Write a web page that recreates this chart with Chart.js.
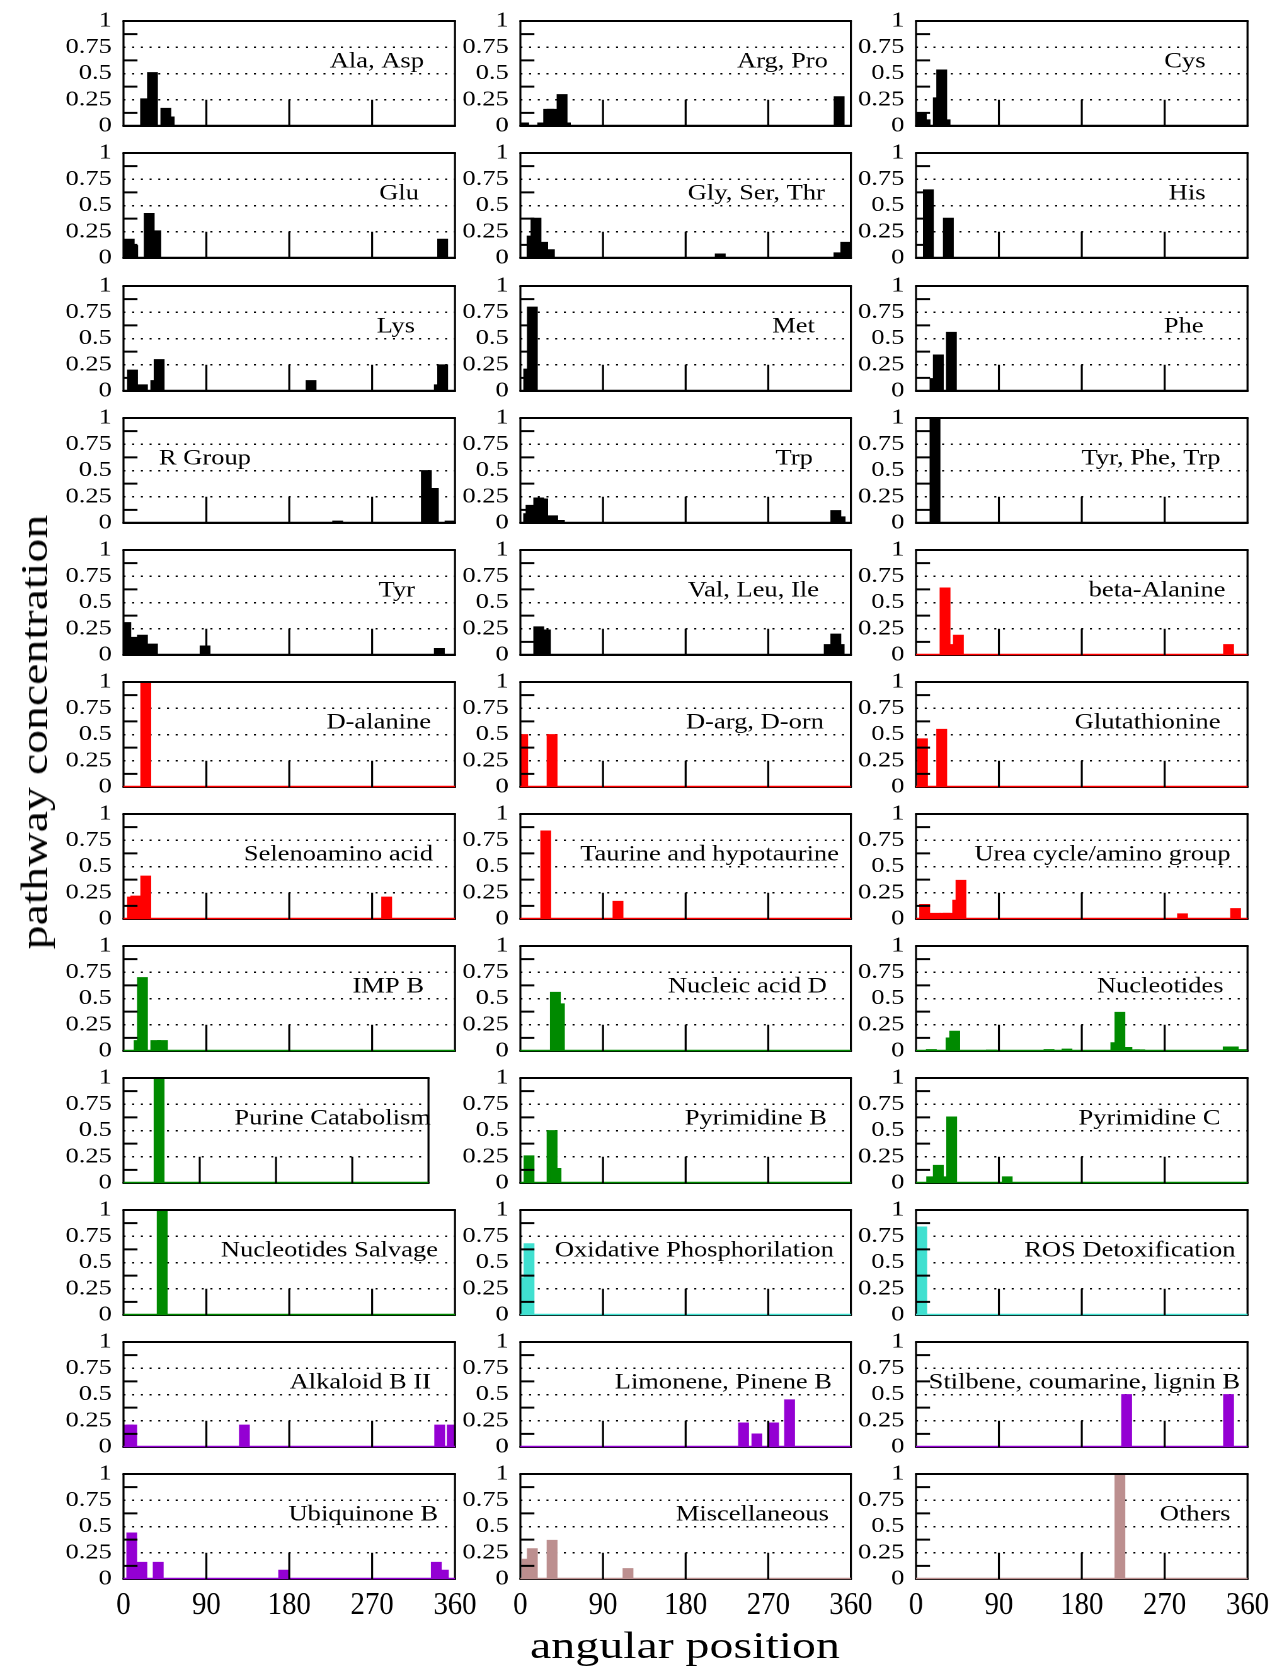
<!DOCTYPE html>
<html>
<head>
<meta charset="utf-8">
<title>pathway concentration vs angular position</title>
<script src="https://cdn.jsdelivr.net/npm/chart.js@4.4.1/dist/chart.umd.min.js"></script>
<style>
  html, body { margin: 0; padding: 0; background: #fff; }
  #page { position: relative; width: 1274px; height: 1669px; overflow: hidden; }
  /* the type in the original is wide, so the panel grid is drawn narrow and stretched */
  #panels { position: absolute; left: 0; top: 0; width: 1012px; height: 1669px; transform: scaleX(1.26); transform-origin: 0 0; }
  #panels canvas { position: absolute; }
  .axis-title { position: absolute; font-family: "Liberation Serif", serif; font-size: 38px; line-height: 38px; white-space: nowrap; color: #000; }
  #xtitle { left: 685px; top: 1626px; transform: translateX(-50%) scaleX(1.26); }
  #ytitle { left: 34px; top: 732px; transform: translate(-50%, -50%) rotate(-90deg) scaleX(1.26); }
</style>
</head>
<body>
<div id="page">
  <div id="panels"></div>
  <div class="axis-title" id="xtitle">angular position</div>
  <div class="axis-title" id="ytitle">pathway concentration</div>
</div>
<script>
const S = 1.26;

const xTicks = [0, 90, 180, 270, 360];
const yTicks = [0, 0.25, 0.5, 0.75, 1];
const innerXTicks = [90, 180, 270];
const minorYTicks = [0.125, 0.375, 0.625, 0.875];

const panelNames = [
  "Ala, Asp", "Arg, Pro", "Cys",
  "Glu", "Gly, Ser, Thr", "His",
  "Lys", "Met", "Phe",
  "R Group", "Trp", "Tyr, Phe, Trp",
  "Tyr", "Val, Leu, Ile", "beta-Alanine",
  "D-alanine", "D-arg, D-orn", "Glutathionine",
  "Selenoamino acid", "Taurine and hypotaurine", "Urea cycle/amino group",
  "IMP B", "Nucleic acid D", "Nucleotides",
  "Purine Catabolism", "Pyrimidine B", "Pyrimidine C",
  "Nucleotides Salvage", "Oxidative Phosphorilation", "ROS Detoxification",
  "Alkaloid B II", "Limonene, Pinene B", "Stilbene, coumarine, lignin B",
  "Ubiquinone B", "Miscellaneous", "Others"
];

const BLACK = "#000000", RED = "#ff0000", GREEN = "#008a00",
      TURQ = "#40e0d0", VIOLET = "#9400d3", ROSY = "#bc8f8f";
const panelColors = [
  BLACK, BLACK, BLACK,
  BLACK, BLACK, BLACK,
  BLACK, BLACK, BLACK,
  BLACK, BLACK, BLACK,
  BLACK, BLACK, RED,
  RED, RED, RED,
  RED, RED, RED,
  GREEN, GREEN, GREEN,
  GREEN, GREEN, GREEN,
  GREEN, TURQ, TURQ,
  VIOLET, VIOLET, VIOLET,
  VIOLET, ROSY, ROSY
];

// bars: [angle (deg), concentration]
const alaAsp = [[24, 0.26], [31.5, 0.51], [46, 0.17], [49.6, 0.087]];
const argPro = [[3.6, 0.03], [24.3, 0.03], [30.8, 0.16], [34.5, 0.16], [45.4, 0.3], [49, 0.03], [347.2, 0.28]];
const cys = [[5.8, 0.12], [9.8, 0.06], [24.2, 0.27], [27.9, 0.535], [31.5, 0.06]];
const glu = [[6.2, 0.18], [10, 0.12], [27.9, 0.425], [35.1, 0.26], [346.6, 0.18]];
const glySerThr = [[12.7, 0.21], [17, 0.38], [24.3, 0.15], [31.6, 0.08], [217.7, 0.04], [347, 0.05], [354.5, 0.15]];
const his = [[13.4, 0.65], [35.1, 0.38]];
const lys = [[9.8, 0.2], [20.6, 0.06], [35.1, 0.1], [38.7, 0.3], [203.7, 0.1], [343, 0.06], [346.6, 0.25]];
const met = [[9.1, 0.21], [13, 0.8]];
const phe = [[20.6, 0.12], [24.2, 0.345], [38.4, 0.56]];
const rGroup = [[232.6, 0.02], [328.9, 0.5], [336.5, 0.33], [354.6, 0.02]];
const trp = [[9, 0.09], [11.6, 0.17], [20, 0.24], [24.3, 0.23], [35.2, 0.07], [42.5, 0.025], [343.6, 0.12], [348.3, 0.06]];
const tyrPheTrp = [[20.6, 1.0]];
const tyr = [[2.5, 0.31], [11.6, 0.17], [20.6, 0.19], [31.5, 0.105], [88.6, 0.087], [343, 0.064]];
const valLeuIle = [[20, 0.27], [27.2, 0.24], [336.4, 0.1], [343.6, 0.2], [347.2, 0.1]];
const betaAlanine = [[31.5, 0.64], [38.7, 0.1], [46, 0.19], [339.4, 0.1]];
const dAlanine = [[24.2, 1.0]];
const dArgDOrn = [[2.5, 0.5], [34.5, 0.5]];
const glutathionine = [[7, 0.46], [27.9, 0.55]];
const selenoamino = [[9.8, 0.21], [13.4, 0.22], [24.2, 0.41], [285.8, 0.21]];
const taurine = [[27.6, 0.84], [106.3, 0.17]];
const ureaCycle = [[9.4, 0.14], [20.6, 0.055], [31.5, 0.055], [35, 0.055], [45.2, 0.18], [48.8, 0.37], [289.4, 0.05], [347, 0.1]];
const impB = [[17, 0.1], [20.6, 0.7], [35.1, 0.1], [42.3, 0.1]];
const nucleicAcidD = [[38.1, 0.56], [42.5, 0.45]];
const nucleotides = [[16.6, 0.015], [38, 0.125], [42, 0.19], [81.8, 0.01], [144.4, 0.015], [163.9, 0.02], [217, 0.08], [221.4, 0.37], [229, 0.035], [237, 0.012], [243, 0.012], [339, 0.04], [344.5, 0.04], [353.5, 0.015]];
const purineCatabolism = [[42, 1.0]];
const pyrimidineB = [[9.4, 0.26], [34.5, 0.5], [38.8, 0.14]];
const pyrimidineC = [[17, 0.06], [24.2, 0.17], [31.5, 0.06], [38.7, 0.63], [99, 0.06]];
const nucleotidesSalvage = [[42, 1.0]];
const oxPhos = [[2, 0.355], [9.4, 0.68]];
const rosDetox = [[6.2, 0.84]];
const alkaloidB2 = [[5, 0.21], [9, 0.21], [131.3, 0.21], [343.4, 0.21], [357, 0.21]];
const limonenePinene = [[243.1, 0.23], [257.6, 0.125], [275.8, 0.23], [293.2, 0.45]];
const stilbene = [[228.7, 0.5], [339.4, 0.5]];
const ubiquinoneB = [[9, 0.44], [20, 0.16], [37.7, 0.16], [174, 0.085], [339.7, 0.16], [347.4, 0.085]];
const miscellaneous = [[7.3, 0.19], [13, 0.29], [34.5, 0.37], [117.2, 0.1]];
const others = [[221.4, 1.0]];

const panelBars = [
  alaAsp, argPro, cys,
  glu, glySerThr, his,
  lys, met, phe,
  rGroup, trp, tyrPheTrp,
  tyr, valLeuIle, betaAlanine,
  dAlanine, dArgDOrn, glutathionine,
  selenoamino, taurine, ureaCycle,
  impB, nucleicAcidD, nucleotides,
  purineCatabolism, pyrimidineB, pyrimidineC,
  nucleotidesSalvage, oxPhos, rosDetox,
  alkaloidB2, limonenePinene, stilbene,
  ubiquinoneB, miscellaneous, others
];

// layout, page pixels
const colLeft = [123.5, 520.3, 916.2];
const colWidth = [331.5, 330.5, 331.5];
const narrowWidth = 305; // Purine Catabolism frame is shorter
const rowTop0 = 21.3, rowPitch = 132.1, plotH = 105;
// gap between panel label end and right frame
const labelInset = [
  31, 23, 42,
  36, 26, 42,
  40, 36, 44,
  204, 38, 27,
  40, 32, 22,
  24, 27, 27,
  22, 12, 17,
  31, 24, 24,
  -2.5, 24, 27,
  17, 17, 12,
  24, 19, 7.5,
  17, 22, 17
];
const Y_W = 52, PAD_T = 14, PAD_R = 18;
const tickFont = { family: "'Liberation Serif', serif", size: 21 };
const LABEL_SQUEEZE = 0.935;   // panel labels are a little less wide than the y tick type
const XLABEL_SQUEEZE = 0.9 / S; // bottom tick numbers are tall and narrow

function line(ctx, x1, y1, x2, y2) {
  ctx.beginPath();
  ctx.moveTo(x1, y1);
  ctx.lineTo(x2, y2);
  ctx.stroke();
}

const framePlugin = {
  id: "frame",
  afterDatasetsDraw(chart, args, opts) {
    const { ctx, chartArea: a, scales: { x, y } } = chart;
    const y0 = y.getPixelForValue(0);
    ctx.save();
    ctx.strokeStyle = "#000";
    ctx.lineWidth = 2;
    line(ctx, a.left - 1 / S, a.top, a.right + 1 / S, a.top);
    line(ctx, a.left - 1 / S, a.bottom, a.right + 1 / S, a.bottom);
    ctx.lineWidth = 2 / S;
    line(ctx, a.left, a.top, a.left, a.bottom);
    line(ctx, a.right, a.top, a.right, a.bottom);
    // zero line in the series colour
    ctx.strokeStyle = opts.color;
    ctx.lineWidth = 1.5;
    line(ctx, a.left, y0 - 0.5, a.right, y0 - 0.5);
    // tics
    ctx.strokeStyle = "#000";
    ctx.lineWidth = 2 / S;
    innerXTicks.forEach(v => {
      const px = x.getPixelForValue(v);
      line(ctx, px, y0, px, y.getPixelForValue(0.25));
    });
    ctx.lineWidth = 2;
    minorYTicks.forEach(v => {
      const py = y.getPixelForValue(v);
      line(ctx, a.left, py, a.left + 14 / S, py);
    });
    ctx.fillStyle = "#000";
    ctx.textAlign = "center";
    ctx.textBaseline = "alphabetic";
    if (opts.xLabels) {
      ctx.font = "32px 'Liberation Serif', serif";
      x.ticks.forEach(t => {
        ctx.save();
        ctx.translate(x.getPixelForValue(t.value), a.bottom + 35);
        ctx.scale(XLABEL_SQUEEZE, 1);
        ctx.fillText(t.label ?? String(t.value), 0, 0);
        ctx.restore();
      });
    }
    ctx.translate(a.right - opts.inset / S, y.getPixelForValue(0.615));
    ctx.scale(LABEL_SQUEEZE, 1);
    ctx.font = "22.5px 'Liberation Serif', serif";
    ctx.textAlign = "right";
    ctx.textBaseline = "middle";
    ctx.fillText(opts.label, 0, 0);
    ctx.restore();
  }
};

const holder = document.getElementById("panels");

panelNames.forEach((name, i) => {
  const row = Math.floor(i / 3), col = i % 3;
  const last = row === 11;
  const plotW = (name === "Purine Catabolism" ? narrowWidth : colWidth[col]) / S;
  const padB = last ? 44 : 14;
  const w = Math.ceil(Y_W + plotW + PAD_R);
  const h = PAD_T + plotH + padB;
  const canvas = document.createElement("canvas");
  canvas.width = w;
  canvas.height = h;
  canvas.style.left = (colLeft[col] / S - Y_W) + "px";
  canvas.style.top = (Math.round(rowTop0 + row * rowPitch) - PAD_T) + "px";
  holder.appendChild(canvas);

  new Chart(canvas, {
    type: "bar",
    data: {
      datasets: [{
        data: panelBars[i].map(([a, v]) => ({ x: a, y: v })),
        backgroundColor: panelColors[i],
        borderWidth: 0,
        barThickness: 10 / S
      }]
    },
    options: {
      responsive: false,
      animation: false,
      devicePixelRatio: 2,
      layout: { autoPadding: false, padding: { left: 0, top: PAD_T, right: w - Y_W - plotW, bottom: padB } },
      plugins: {
        legend: { display: false },
        tooltip: { enabled: false },
        frame: { label: name, color: panelColors[i], inset: labelInset[i], xLabels: last }
      },
      scales: {
        x: {
          type: "linear", min: 0, max: 360, offset: false,
          afterBuildTicks: s => { s.ticks = xTicks.map(v => ({ value: v })); },
          afterFit: s => { s.height = 0; s.paddingLeft = 0; s.paddingRight = 0; },
          grid: { display: false, offset: false },
          border: { display: false },
          ticks: { display: false, autoSkip: false, callback: v => String(v) }
        },
        y: {
          min: 0, max: 1,
          afterBuildTicks: s => { s.ticks = yTicks.map(v => ({ value: v })); },
          afterFit: s => { s.width = Y_W; s.paddingTop = 0; s.paddingBottom = 0; },
          grid: { color: "#000", lineWidth: 1.5, drawTicks: false },
          border: { display: false, dash: [1.6, 5.3] },
          ticks: { font: tickFont, color: "#000", padding: 9.3, autoSkip: false, callback: v => String(v) }
        }
      }
    },
    plugins: [framePlugin]
  });
});
</script>
</body>
</html>
